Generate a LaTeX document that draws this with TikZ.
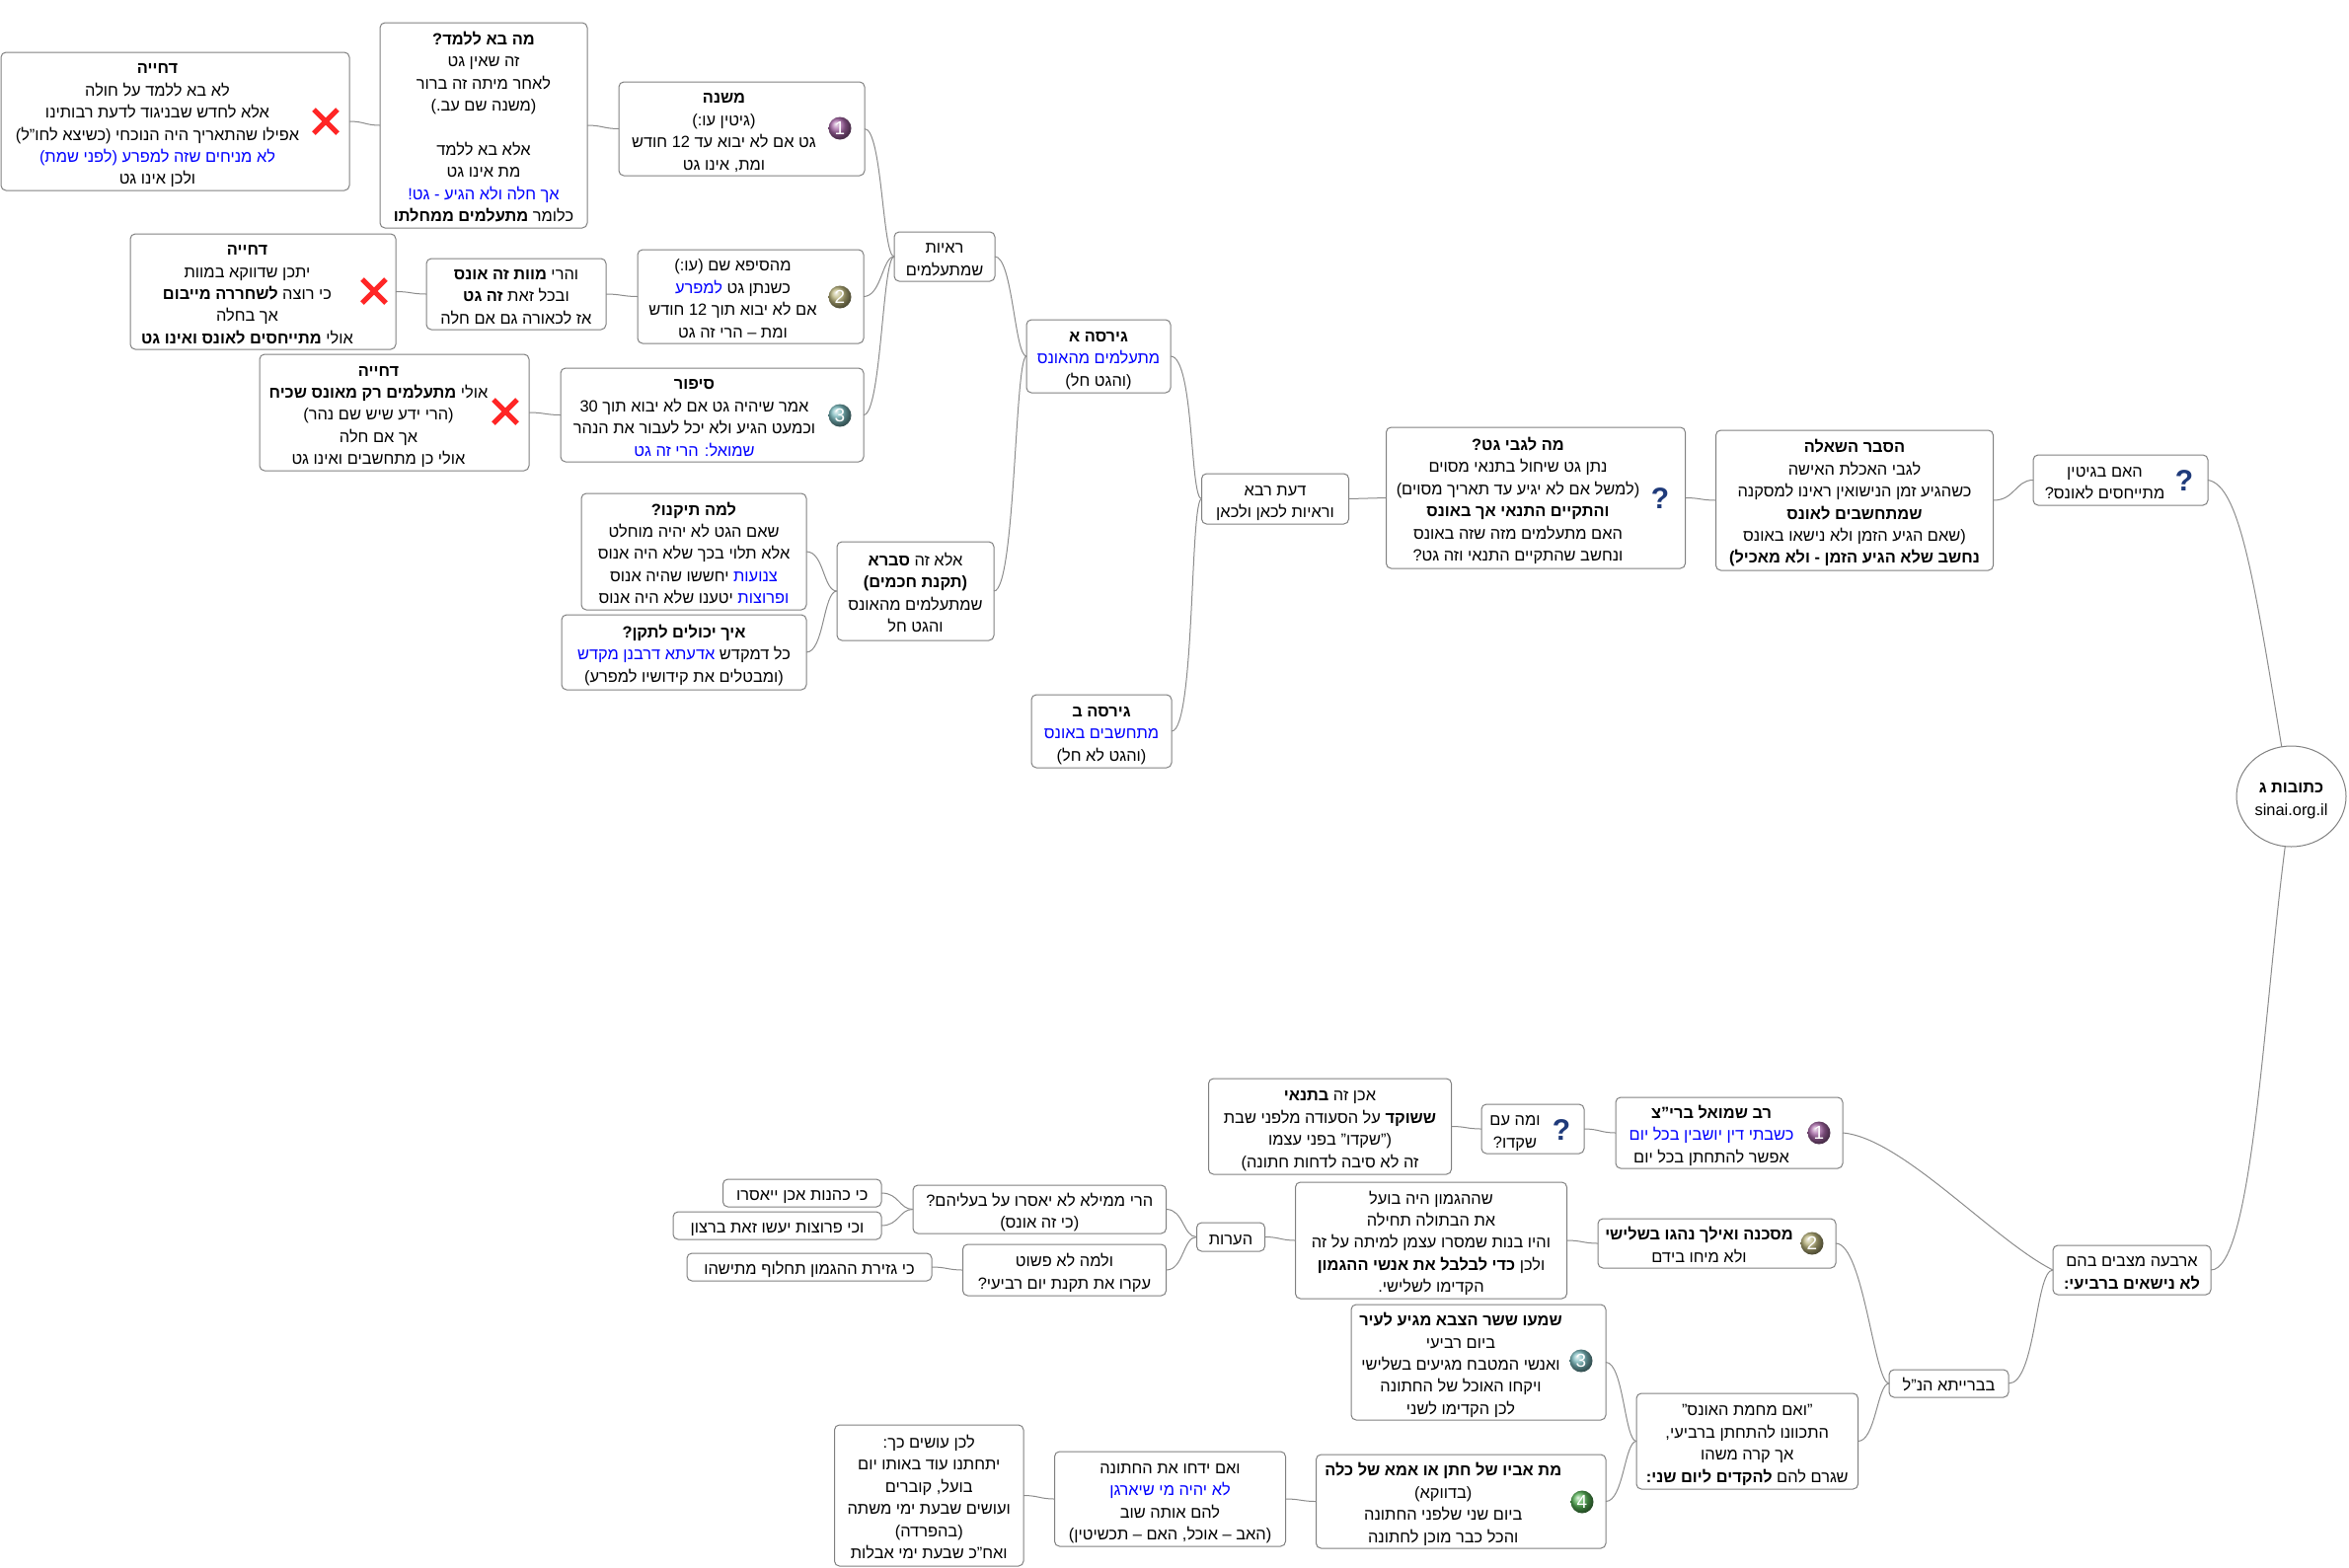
\documentclass[tikz,border=0pt]{standalone}
\usepackage{fontspec}
\setmainfont[Script=Hebrew]{Liberation Sans}
\usetikzlibrary{shapes.geometric,shapes.misc}
\TeXXeTstate=1
\definecolor{boxgray}{HTML}{808080}
\definecolor{linkgray}{HTML}{8C8C8C}
\definecolor{quoteblue}{HTML}{0000FF}
\definecolor{qmarkblue}{HTML}{1F3A7A}
\definecolor{ballone}{HTML}{A565A5}
\definecolor{balltwo}{HTML}{B8B27A}
\definecolor{ballthree}{HTML}{78B8BC}
\definecolor{ballfour}{HTML}{55B055}
\newcommand{\rl}[1]{\beginR #1\endR}
\newcommand{\bl}[1]{\textcolor{quoteblue}{\rl{#1}}}
\newcommand{\nm}[1]{\beginL #1\endL{}}
\newcommand{\lefttext}[2]{\raisebox{-3.5pt}[\height][\depth]{\begin{tabular}{@{}c@{}}#2\end{tabular}}\hspace*{#1pt}}
\newcommand{\midtext}[1]{\lefttext{0}{#1}}
\tikzset{
	mapbox/.style={draw=boxgray,line width=1pt,rounded corners=5pt,fill=white,inner sep=0pt,outer sep=0pt,font=\fontsize{16.4}{22.4}\selectfont},
	rootbox/.style={mapbox,ellipse,rounded corners=0pt},
	maplink/.style={draw=linkgray,line width=1pt},
	crossmark/.style={cross out,draw=red!85!white,line width=5pt,minimum size=19pt,inner sep=0pt},
	numball/.style={circle,ball color=#1,text=white,inner sep=0pt,minimum size=23pt,font=\fontsize{19}{19}\selectfont},
	qmark/.style={inner sep=0pt,text=qmarkblue,font=\fontsize{30}{30}\selectfont\bfseries}
}
\begin{document}
\begin{tikzpicture}[x=1pt,y=-1pt]
	\useasboundingbox (0,0) rectangle (2380,1588);
	% upper branch
	\node[mapbox,minimum width=353pt,minimum height=140pt] (dhiyaa) at (177.5,123) {\lefttext{36}{\rl{\textbf{דחייה}}\\\rl{לא בא ללמד על חולה}\\\rl{אלא לחדש שבניגוד לדעת רבותינו}\\\rl{אפילו שהתאריך היה הנוכחי (כשיצא לחו"ל)}\\\bl{לא מניחים שזה למפרע (לפני שמת)}\\\rl{ולכן אינו גט}}};
	\node[mapbox,minimum width=210pt,minimum height=208pt] (mabalamed) at (490,127) {\midtext{\rl{\textbf{מה בא ללמד?}}\\\rl{זה שאין גט}\\\rl{לאחר מיתה זה ברור}\\\rl{(משנה שם עב.)}\\[22.4pt]\rl{אלא בא ללמד}\\\rl{מת אינו גט}\\\bl{אך חלה ולא הגיע -  גט!}\\\rl{כלומר \textbf{מתעלמים ממחלתו}}}};
	\node[mapbox,minimum width=249pt,minimum height=95pt] (mishna) at (751.5,130.5) {\lefttext{36}{\rl{\textbf{משנה}}\\\rl{(גיטין עו:)}\\\rl{גט אם לא יבוא עד \nm{12} חודש}\\\rl{ומת, אינו גט}}};
	\node[mapbox,minimum width=102pt,minimum height=50pt] (reayot) at (957,260) {\midtext{\rl{ראיות}\\\rl{שמתעלמים}}};
	\node[mapbox,minimum width=269pt,minimum height=117pt] (dhiyab) at (266.5,295.5) {\lefttext{32}{\rl{\textbf{דחייה}}\\\rl{יתכן שדווקא במוות}\\\rl{כי רוצה \textbf{לשחררה מייבום}}\\\rl{אך בחלה}\\\rl{אולי \textbf{מתייחסים לאונס ואינו גט}}}};
	\node[mapbox,minimum width=182pt,minimum height=72pt] (vehare) at (523,298) {\midtext{\rl{והרי \textbf{מוות זה אונס}}\\\rl{ובכל זאת \textbf{זה גט}}\\\rl{אז לכאורה גם אם חלה}}};
	\node[mapbox,minimum width=229pt,minimum height=95pt] (misefa) at (760.5,300.5) {\lefttext{36}{\rl{מהסיפא שם (עו:)}\\\bl{למפרע} \rl{כשנתן גט}\\\rl{אם לא יבוא תוך \nm{12} חודש}\\\rl{ומת – הרי זה גט}}};
	\node[mapbox,minimum width=273pt,minimum height=118pt] (dhiyac) at (399.5,418) {\lefttext{32}{\rl{\textbf{דחייה}}\\\rl{אולי \textbf{מתעלמים רק מאונס שכיח}}\\\rl{(הרי ידע שיש שם נהר)}\\\rl{אך אם חלה}\\\rl{אולי כן מתחשבים ואינו גט}}};
	\node[mapbox,minimum width=307pt,minimum height=95pt] (sipur) at (721.5,420.5) {\lefttext{36}{\rl{\textbf{סיפור}}\\\rl{אמר שיהיה גט אם לא יבוא תוך \nm{30}}\\\rl{וכמעט הגיע ולא יכל לעבור את הנהר}\\\bl{שמואל: הרי זה גט}}};
	\node[mapbox,minimum width=228pt,minimum height=118pt] (lamatikenu) at (703,559) {\midtext{\rl{\textbf{למה תיקנו?}}\\\rl{שאם הגט לא יהיה מוחלט}\\\rl{אלא תלוי בכך שלא היה אנוס}\\\rl{יחששו שהיה אנוס} \bl{צנועות}\\\rl{יטענו שלא היה אנוס} \bl{ופרוצות}}};
	\node[mapbox,minimum width=248pt,minimum height=76pt] (eychletaken) at (693,661) {\midtext{\rl{\textbf{איך יכולים לתקן?}}\\\bl{אדעתא דרבנן מקדש} \rl{כל דמקדש}\\\rl{(ומבטלים את קידושיו למפרע)}}};
	\node[mapbox,minimum width=159pt,minimum height=100pt] (sevara) at (927.5,599) {\midtext{\rl{אלא זה \textbf{סברא}}\\\rl{\textbf{(תקנת חכמים)}}\\\rl{שמתעלמים מהאונס}\\\rl{והגט חל}}};
	\node[mapbox,minimum width=146pt,minimum height=74pt] (girsaa) at (1113,361) {\midtext{\rl{\textbf{גירסה א}}\\\bl{מתעלמים מהאונס}\\\rl{(והגט חל)}}};
	\node[mapbox,minimum width=142pt,minimum height=74pt] (girsab) at (1116,741) {\midtext{\rl{\textbf{גירסה ב}}\\\bl{מתחשבים באונס}\\\rl{(והגט לא חל)}}};
	\node[mapbox,minimum width=149pt,minimum height=51pt] (rava) at (1292,505.5) {\midtext{\rl{דעת רבא}\\\rl{וראיות לכאן ולכאן}}};
	\node[mapbox,minimum width=303pt,minimum height=143pt] (magabey) at (1556,504.5) {\lefttext{36}{\rl{\textbf{מה לגבי גט?}}\\\rl{נתן גט שיחול בתנאי מסוים}\\\rl{(למשל אם לא יגיע עד תאריך מסוים)}\\\rl{\textbf{והתקיים התנאי אך באונס}}\\\rl{האם מתעלמים מזה שזה באונס}\\\rl{ונחשב שהתקיים התנאי וזה גט?}}};
	\node[mapbox,minimum width=281pt,minimum height=142pt] (hesber) at (1879,507) {\midtext{\rl{\textbf{הסבר השאלה}}\\\rl{לגבי האכלת האישה}\\\rl{כשהגיע זמן הנישואין ראינו למסקנה}\\\rl{\textbf{שמתחשבים לאונס}}\\\rl{(שאם הגיע הזמן ולא נישאו באונס}\\\rl{\textbf{נחשב שלא הגיע הזמן - ולא מאכיל)}}}};
	\node[mapbox,minimum width=177pt,minimum height=51pt] (baitin) at (2148.5,486.5) {\lefttext{32}{\rl{האם בגיטין}\\\rl{מתייחסים לאונס?}}};
	\node[rootbox,minimum width=111pt,minimum height=102pt] (root) at (2321.5,807) {\midtext{\rl{\textbf{כתובות ג}}\\sinai.org.il}};
	% lower branch
	\node[mapbox,minimum width=160pt,minimum height=50pt] (arbaa) at (2160,1287) {\midtext{\rl{ארבעה מצבים בהם}\\\rl{\textbf{לא נישאים ברביעי:}}}};
	\node[mapbox,minimum width=230pt,minimum height=72pt] (rav) at (1752,1148) {\lefttext{36}{\rl{\textbf{רב שמואל ברי"צ}}\\\bl{כשבתי דין יושבין בכל יום}\\\rl{אפשר להתחתן בכל יום}}};
	\node[mapbox,minimum width=104pt,minimum height=50pt] (shakdu) at (1553,1144) {\lefttext{36}{\rl{ומה עם}\\\rl{שקדו?}}};
	\node[mapbox,minimum width=246pt,minimum height=97pt] (akhen) at (1347.5,1141.5) {\midtext{\rl{אכן זה \textbf{בתנאי}}\\\rl{\textbf{ששוקד} על הסעודה  מלפני שבת}\\\rl{("שקדו" בפני עצמו}\\\rl{זה לא סיבה לדחות חתונה)}}};
	\node[mapbox,minimum width=275pt,minimum height=118pt] (hegmon) at (1450,1257) {\midtext{\rl{שההגמון היה בועל}\\\rl{את הבתולה תחילה}\\\rl{והיו בנות שמסרו עצמן למיתה על זה}\\\rl{ולכן \textbf{כדי לבלבל את אנשי ההגמון}}\\\rl{הקדימו לשלישי.}}};
	\node[mapbox,minimum width=241pt,minimum height=50pt] (mesakana) at (1739.5,1260) {\lefttext{36}{\rl{\textbf{מסכנה ואילך נהגו בשלישי}}\\\rl{ולא מיחו בידם}}};
	\node[mapbox,minimum width=69pt,minimum height=29pt] (heorot) at (1247,1253.5) {\midtext{\rl{הערות}}};
	\node[mapbox,minimum width=256.5pt,minimum height=49pt] (harei) at (1053.25,1225.5) {\midtext{\rl{הרי ממילא לא יאסרו על בעליהם?}\\\rl{(כי זה אונס)}}};
	\node[mapbox,minimum width=206pt,minimum height=52pt] (velama) at (1078.5,1287) {\midtext{\rl{ולמה לא פשוט}\\\rl{עקרו את תקנת יום רביעי?}}};
	\node[mapbox,minimum width=160.5pt,minimum height=28pt] (kohanot) at (812.75,1209) {\midtext{\rl{כי כהנות אכן ייאסרו}}};
	\node[mapbox,minimum width=211pt,minimum height=28pt] (prutzot) at (787.5,1242) {\midtext{\rl{וכי פרוצות יעשו זאת ברצון}}};
	\node[mapbox,minimum width=248pt,minimum height=28pt] (gzerat) at (820,1284) {\midtext{\rl{כי גזירת ההגמון תחלוף מתישהו}}};
	\node[mapbox,minimum width=121pt,minimum height=28pt] (baraita) at (1974.5,1402) {\midtext{\rl{בברייתא הנ"ל}}};
	\node[mapbox,minimum width=224.5pt,minimum height=97pt] (machmat) at (1770.25,1460.5) {\midtext{\rl{"ואם מחמת האונס"}\\\rl{התכוונו להתחתן ברביעי,}\\\rl{אך קרה משהו}\\\rl{שגרם להם \textbf{להקדים ליום שני:}}}};
	\node[mapbox,minimum width=258pt,minimum height=117pt] (sarhatzava) at (1498,1380.5) {\lefttext{36}{\rl{\textbf{שמעו ששר הצבא מגיע לעיר}}\\\rl{ביום רביעי}\\\rl{ואנשי המטבח מגיעים בשלישי}\\\rl{ויקחו האוכל של החתונה}\\\rl{לכן הקדימו לשני}}};
	\node[mapbox,minimum width=293.5pt,minimum height=95pt] (met) at (1480.25,1521.5) {\lefttext{36}{\rl{\textbf{מת אביו של חתן או  אמא של כלה}}\\\rl{(בדווקא)}\\\rl{ביום שני שלפני החתונה}\\\rl{והכל כבר מוכן לחתונה}}};
	\node[mapbox,minimum width=234pt,minimum height=96pt] (yidchu) at (1185.5,1519) {\midtext{\rl{ואם ידחו את החתונה}\\\bl{לא יהיה מי שיארגן}\\\rl{להם אותה שוב}\\\rl{(האב – אוכל, האם – תכשיטין)}}};
	\node[mapbox,minimum width=191.5pt,minimum height=143pt] (lachen) at (941.25,1515.5) {\midtext{\rl{לכן עושים כך:}\\\rl{יתחתנו עוד באותו יום}\\\rl{בועל, קוברים}\\\rl{ועושים שבעת ימי משתה}\\\rl{(בהפרדה)}\\\rl{ואח"כ שבעת ימי אבלות}}};
	% marks
	\node[crossmark] (xa) at (330,123) {};
	\node[crossmark] (xb) at (379,295) {};
	\node[crossmark] (xc) at (512,417) {};
	\node[numball=ballone] (ballmishna) at (851,130) {1};
	\node[numball=balltwo] (ballmisefa) at (851,301) {2};
	\node[numball=ballthree] (ballsipur) at (851,421) {3};
	\node[numball=ballone] (ballrav) at (1843,1148) {1};
	\node[numball=balltwo] (ballmesakana) at (1836,1260) {2};
	\node[numball=ballthree] (ballsar) at (1602,1379) {3};
	\node[numball=ballfour] (ballmet) at (1603,1522) {4};
	\node[qmark] (qmagabey) at (1682,505) {?};
	\node[qmark] (qbaitin) at (2213,487) {?};
	\node[qmark] (qshakdu) at (1582,1145) {?};
	% links
	\draw[maplink] (dhiyaa.east) .. controls +(15,0) and +(-15,0) .. (mabalamed.west);
	\draw[maplink] (mabalamed.east) .. controls +(15,0) and +(-15,0) .. (mishna.west);
	\draw[maplink] (mishna.east) .. controls +(18,0) and +(-12,0) .. (reayot.west);
	\draw[maplink] (misefa.east) .. controls +(18,0) and +(-12,0) .. (reayot.west);
	\draw[maplink] (sipur.east) .. controls +(18,0) and +(-12,0) .. (reayot.west);
	\draw[maplink] (dhiyab.east) .. controls +(15,0) and +(-15,0) .. (vehare.west);
	\draw[maplink] (vehare.east) .. controls +(15,0) and +(-15,0) .. (misefa.west);
	\draw[maplink] (dhiyac.east) .. controls +(15,0) and +(-15,0) .. (sipur.west);
	\draw[maplink] (lamatikenu.east) .. controls +(18,0) and +(-14,0) .. (sevara.west);
	\draw[maplink] (eychletaken.east) .. controls +(18,0) and +(-14,0) .. (sevara.west);
	\draw[maplink] (reayot.east) .. controls +(18,0) and +(-12,0) .. (girsaa.west);
	\draw[maplink] (sevara.east) .. controls +(22,0) and +(-12,0) .. (girsaa.west);
	\draw[maplink] (girsaa.east) .. controls +(24,0) and +(-12,0) .. (rava.west);
	\draw[maplink] (girsab.east) .. controls +(24,0) and +(-12,0) .. (rava.west);
	\draw[maplink] (rava.east) -- (magabey.west);
	\draw[maplink] (magabey.east) .. controls +(15,0) and +(-15,0) .. (hesber.west);
	\draw[maplink] (hesber.east) .. controls +(22,0) and +(-18,0) .. (baitin.west);
	\draw[maplink] (baitin.east) .. controls +(32,5) and +(-28,-170) .. (root.101);
	\draw[maplink] (arbaa.east) .. controls +(42,0) and +(-22,170) .. (root.263);
	\draw[maplink] (shakdu.east) .. controls +(15,0) and +(-15,0) .. (rav.west);
	\draw[maplink] (akhen.east) .. controls +(15,0) and +(-15,0) .. (shakdu.west);
	\draw[maplink] (rav.east) .. controls +(60,5) and +(-60,-30) .. (arbaa.west);
	\draw[maplink] (hegmon.east) .. controls +(15,0) and +(-15,0) .. (mesakana.west);
	\draw[maplink] (mesakana.east) .. controls +(28,0) and +(-15,0) .. (baraita.west);
	\draw[maplink] (heorot.east) .. controls +(15,0) and +(-15,0) .. (hegmon.west);
	\draw[maplink] (harei.east) .. controls +(18,0) and +(-14,0) .. (heorot.west);
	\draw[maplink] (velama.east) .. controls +(18,0) and +(-14,0) .. (heorot.west);
	\draw[maplink] (kohanot.east) .. controls +(18,0) and +(-14,0) .. (harei.west);
	\draw[maplink] (prutzot.east) .. controls +(18,0) and +(-14,0) .. (harei.west);
	\draw[maplink] (gzerat.east) .. controls +(15,0) and +(-15,0) .. (velama.west);
	\draw[maplink] (sarhatzava.east) .. controls +(18,0) and +(-12,0) .. (machmat.west);
	\draw[maplink] (met.east) .. controls +(18,0) and +(-12,0) .. (machmat.west);
	\draw[maplink] (machmat.east) .. controls +(18,0) and +(-12,0) .. (baraita.west);
	\draw[maplink] (baraita.east) .. controls +(28,0) and +(-18,0) .. (arbaa.west);
	\draw[maplink] (yidchu.east) .. controls +(15,0) and +(-15,0) .. (met.west);
	\draw[maplink] (lachen.east) .. controls +(15,0) and +(-15,0) .. (yidchu.west);
\end{tikzpicture}
\end{document}
